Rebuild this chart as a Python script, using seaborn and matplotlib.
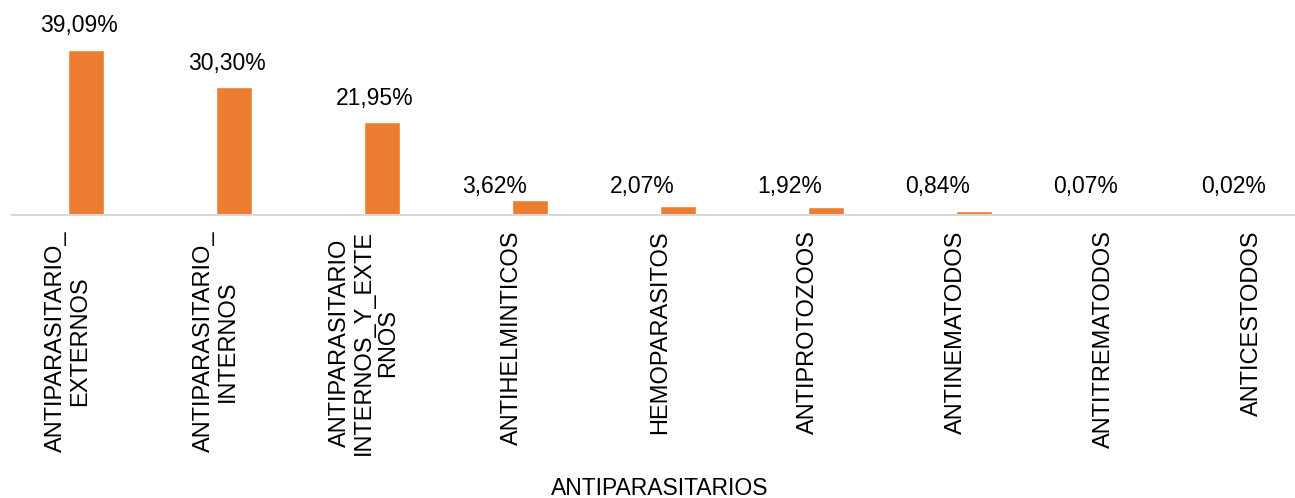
import matplotlib
matplotlib.use("Agg")
import matplotlib.pyplot as plt
import seaborn as sns
import pandas as pd

categories = [
    "ANTIPARASITARIO_\nEXTERNOS",
    "ANTIPARASITARIO_\nINTERNOS",
    "ANTIPARASITARIO\nINTERNOS_Y_EXTE\nRNOS",
    "ANTIHELMINTICOS",
    "HEMOPARASITOS",
    "ANTIPROTOZOOS",
    "ANTINEMATODOS",
    "ANTITREMATODOS",
    "ANTICESTODOS",
]
values = [39.09, 30.30, 21.95, 3.62, 2.07, 1.92, 0.84, 0.07, 0.02]
value_labels = ["39,09%", "30,30%", "21,95%", "3,62%", "2,07%", "1,92%", "0,84%", "0,07%", "0,02%"]
x_title = "ANTIPARASITARIOS"

sns.set_theme(style="white")
plt.rcParams["font.family"] = ["Liberation Sans", "DejaVu Sans"]

W, H = 1295, 498
fig = plt.figure(figsize=(W / 100, H / 100), dpi=100)
ax_h = 215
ax = fig.add_axes([12 / W, (H - ax_h) / H, (W - 12) / W, ax_h / H])

df = pd.DataFrame({"cat": categories, "val": values})
bar_w = 0.243
sns.barplot(data=df, x="cat", y="val", color="#ED7D31", saturation=1,
            width=bar_w, ax=ax, order=categories)

ax.set_xlim(-0.5, (W - 86) / 148)
ax.set_ylim(0, 50.9)

# value labels
small_y = max(v for v in values if v < 5)
for i, (v, lab) in enumerate(zip(values, value_labels)):
    if v >= 5:
        ax.annotate(lab, (i - 0.05, v), xytext=(0, 9), textcoords="offset points",
                    ha="center", va="bottom", fontsize=16.5, color="black")
    else:
        ax.annotate(lab, (i - bar_w, small_y), xytext=(0, 1.5), textcoords="offset points",
                    ha="center", va="bottom", fontsize=16.5, color="black")

# ticks (category slot centre is half a bar left of the bar)
ax.set_xticks([i - bar_w / 2 for i in range(len(categories))])
ax.set_xticklabels(categories, rotation=90, ha="center", va="top",
                   multialignment="center", linespacing=1.1,
                   fontsize=17, color="black")
ax.tick_params(axis="x", length=0, pad=11)
ax.set_yticks([])
ax.set_ylabel("")

ax.set_xlabel(x_title, fontsize=16.5, color="black")
ax.xaxis.set_label_coords((660 - 12) / (W - 12), -(477 - ax_h) / ax_h)

for s in ["top", "right", "left"]:
    ax.spines[s].set_visible(False)
ax.spines["bottom"].set_color("#D9D9D9")
ax.spines["bottom"].set_linewidth(1.5)

fig.savefig("out.png", dpi=100)
